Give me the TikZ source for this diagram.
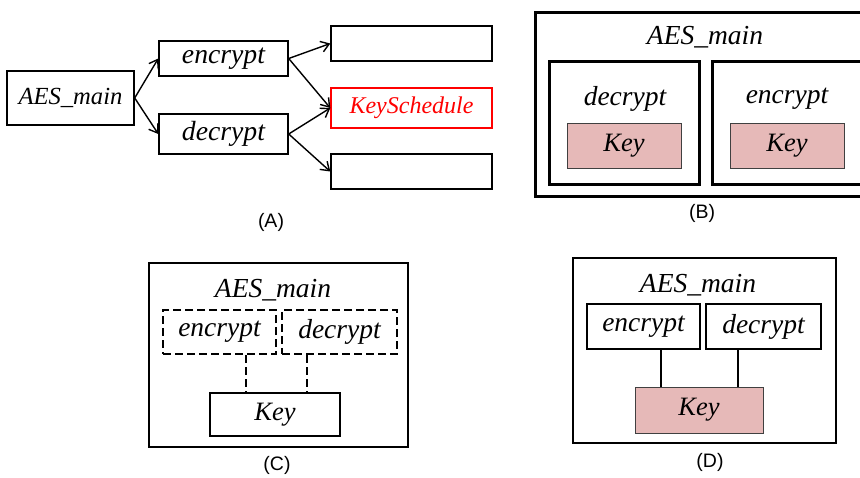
\documentclass[tikz,border=0pt]{standalone}
\usepackage{fontspec}
\setmainfont{Liberation Serif}
\newfontfamily\capfont{Liberation Sans}
\usepackage{tikz}
\usetikzlibrary{arrows.meta}
\definecolor{keypink}{HTML}{E6B9B8}
\newcommand{\itf}[1]{\fontsize{#1}{#1}\selectfont\itshape}
\newcommand{\capf}{\capfont\fontsize{19.5}{20}\selectfont}

\begin{document}
\begin{tikzpicture}[x=1pt,y=-1pt]
    \tikzstyle{e} = [draw, line width=1.4pt, -{Straight Barb[length=8pt,width=11pt]}]
    \tikzstyle{b} = [draw, inner sep=0pt, line width=1.4pt, font=\itf{27.7}]
    \tikzstyle{thick box} = [draw, inner sep=0pt, line width=2.7pt, font=\itf{27.5}]
    \tikzstyle{keybox} = [draw=black!75, fill=keypink, inner sep=0pt, line width=1pt, font=\itf{26.5}]
    \tikzstyle{txt} = [inner sep=0pt, font=\itf{27.5}]
    \tikzstyle{caption} = [inner sep=0pt, font=\capf]
    \clip (0,0) rectangle (860,477);
    % (A)
    \begin{scope}
        \node[b, minimum width=127pt, minimum height=54pt, font=\itf{24.6}] (main) at (70.5,98) {AES\_main};
        \node[b, minimum width=129pt, minimum height=35pt] (enc) at (223.5,58.5) {encrypt};
        \node[b, minimum width=129pt, minimum height=40pt] (dec) at (223.5,134) {decrypt};
        \node[b, minimum width=161pt, minimum height=35pt] (sub1) at (411.5,43.5) {};
        \node[b, draw=red, text=red, minimum width=161pt, minimum height=40pt, font=\itf{24}] (ks) at (411.5,108) {KeySchedule};
        \node[b, minimum width=161pt, minimum height=35pt] (sub3) at (411.5,171.5) {};
        \node[caption] (capA) at (271,222) {(A)};
        \draw [e] (main.east) -- (enc.west);
        \draw [e] (main.east) -- (dec.west);
        \draw [e] (enc.east) -- (sub1.west);
        \draw [e] (enc.east) -- (ks.west);
        \draw [e] (dec.east) -- (ks.west);
        \draw [e] (dec.east) -- (sub3.west);
    \end{scope}
    % (B)
    \begin{scope}
        \node[thick box, line width=3pt, minimum width=340pt, minimum height=184pt] (mainB) at (705,104) {};
        \node[txt] (mainBt) at (705,37) {AES\_main};
        \node[thick box, line width=3pt, minimum width=150pt, minimum height=123pt] (decB) at (624,122.5) {};
        \node[txt] (decBt) at (625,99) {decrypt};
        \node[keybox, minimum width=114pt, minimum height=45pt] (keyB1) at (624,145.5) {Key};
        \node[thick box, line width=3pt, minimum width=163pt, minimum height=123pt] (encB) at (793.5,122.5) {};
        \node[txt] (encBt) at (787,99) {encrypt};
        \node[keybox, minimum width=114pt, minimum height=45pt] (keyB2) at (787,145.5) {Key};
        \node[caption] (capB) at (702,213) {(B)};
    \end{scope}
    % (C)
    \begin{scope}
        \node[thick box, minimum width=259pt, minimum height=184pt] (mainC) at (278.5,355) {};
        \node[txt] (mainCt) at (273,290) {AES\_main};
        \node[thick box, dash pattern=on 8pt off 4pt, minimum width=113pt, minimum height=44pt] (encC) at (219.5,332) {encrypt};
        \node[thick box, dash pattern=on 8pt off 4pt, minimum width=115pt, minimum height=44pt] (decC) at (339.5,332) {decrypt};
        \node[thick box, minimum width=130pt, minimum height=43pt, font=\itf{26.5}] (keyC) at (275,414.5) {Key};
        \coordinate (c1) at (246,0);
        \coordinate (c2) at (307,0);
        \draw [line width=2.7pt, dash pattern=on 8pt off 4pt] (encC.south -| c1) -- (keyC.north -| c1);
        \draw [line width=2.7pt, dash pattern=on 8pt off 4pt] (decC.south -| c2) -- (keyC.north -| c2);
        \node[caption] (capC) at (277,465) {(C)};
    \end{scope}
    % (D)
    \begin{scope}
        \node[thick box, minimum width=263pt, minimum height=185pt] (mainD) at (704.5,350.5) {};
        \node[txt] (mainDt) at (698,285) {AES\_main};
        \node[thick box, minimum width=113pt, minimum height=45pt] (encD) at (643.5,326.5) {encrypt};
        \node[thick box, minimum width=115pt, minimum height=45pt] (decD) at (763.5,326.5) {decrypt};
        \node[keybox, minimum width=128pt, minimum height=46pt] (keyD) at (699,410) {Key};
        \coordinate (d1) at (661,0);
        \coordinate (d2) at (738,0);
        \draw [line width=2.7pt] (encD.south -| d1) -- (keyD.north -| d1);
        \draw [line width=2.7pt] (decD.south -| d2) -- (keyD.north -| d2);
        \node[caption] (capD) at (710,462) {(D)};
    \end{scope}
\end{tikzpicture}
\end{document}
